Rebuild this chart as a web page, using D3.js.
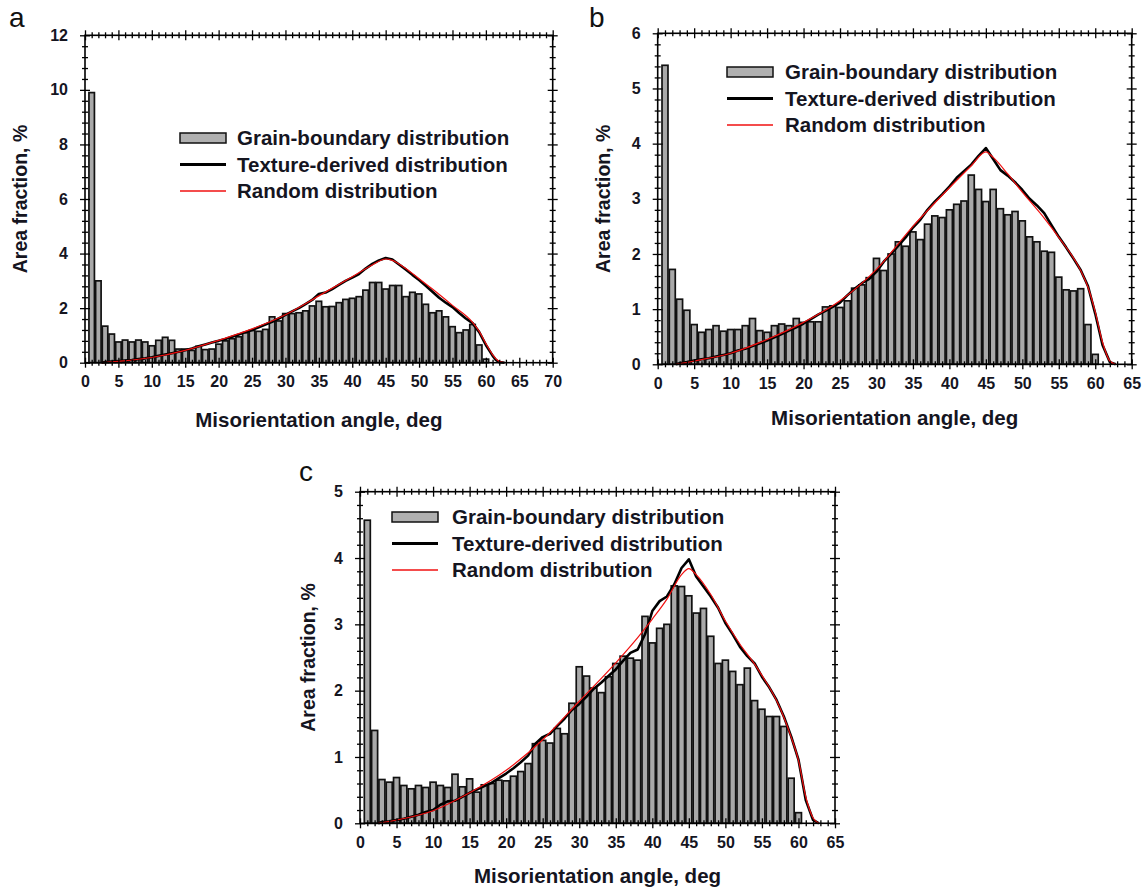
<!DOCTYPE html>
<html>
<head>
<meta charset="utf-8">
<script src="https://cdn.jsdelivr.net/npm/d3@7"></script>
<style>
body { margin: 0; background: white; }
text { font-family: "Liberation Sans", Arial, sans-serif; }
</style>
</head>
<body>
<svg id="plot"></svg>
<script>
// Histogram bin centres, deg
const binAngles = [1,2,3,4,5,6,7,8,9,10,11,12,13,14,15,16,17,18,19,20,
  21,22,23,24,25,26,27,28,29,30,31,32,33,34,35,36,37,38,39,40,
  41,42,43,44,45,46,47,48,49,50,51,52,53,54,55,56,57,58,59,60];

// Panel a
const barsA = [9.9,3.0,1.34,1.05,0.76,0.83,0.76,0.83,0.76,0.62,0.82,0.93,0.82,0.5,0.5,0.45,0.6,0.48,0.5,0.68,
  0.8,0.88,0.95,1.1,1.18,1.15,1.22,1.68,1.53,1.8,1.8,1.83,1.9,2.08,2.25,2.05,2.06,2.2,2.32,2.36,
  2.42,2.66,2.94,2.94,2.7,2.83,2.83,2.42,2.58,2.52,2.14,1.83,1.9,1.68,1.32,1.1,1.2,1.4,0.65,0.13];
const textureA = [[2.5,0],[3,0.02],[4,0.04],[5,0.06],[6,0.08],[7,0.1],[8,0.13],[9,0.16],[10,0.2],[11,0.25],
  [12,0.3],[13,0.35],[14,0.4],[15,0.46],[16,0.52],[17,0.6],[18,0.67],[19,0.74],[20,0.8],[21,0.87],
  [22,0.95],[23,1.03],[24,1.12],[25,1.2],[26,1.3],[27,1.4],[28,1.5],[29,1.62],[30,1.75],[31,1.88],
  [32,2.0],[33,2.15],[34,2.3],[35,2.52],[36,2.57],[37,2.7],[38,2.85],[39,3.0],[40,3.12],[41,3.25],
  [42,3.45],[43,3.62],[44,3.75],[45,3.84],[46,3.78],[47,3.6],[48,3.42],[49,3.22],[50,3.03],[51,2.82],
  [52,2.6],[53,2.38],[54,2.2],[55,2.04],[56,1.82],[57,1.62],[58,1.45],[59,1.12],[60,0.65],[61,0.26],
  [61.5,0.1],[62,0.02],[62.8,0]];
const randomA = [[2.5,0],[5,0.05],[10,0.19],[15,0.45],[20,0.82],[25,1.24],[30,1.76],[35,2.45],[40,3.15],
  [43,3.58],[45,3.8],[46,3.75],[48,3.45],[50,3.08],[52,2.7],[55,2.1],[58,1.48],[59,1.15],[60,0.7],
  [61,0.3],[62,0.05],[62.8,0]];

// Panel b
const barsB = [5.42,1.72,1.18,0.98,0.72,0.58,0.63,0.7,0.6,0.63,0.63,0.7,0.83,0.61,0.58,0.7,0.73,0.7,0.83,0.76,
  0.77,0.77,1.04,1.06,1.03,1.15,1.38,1.44,1.57,1.92,1.7,2.0,2.22,2.14,2.4,2.26,2.54,2.69,2.66,2.8,
  2.9,2.96,3.43,3.17,2.95,3.17,2.82,2.71,2.77,2.6,2.31,2.22,2.05,2.03,1.58,1.35,1.33,1.37,0.72,0.18];
const textureB = [[2.5,0],[3,0.02],[4,0.04],[5,0.07],[6,0.09],[7,0.11],[8,0.14],[9,0.17],[10,0.2],[11,0.25],
  [12,0.28],[13,0.33],[14,0.38],[15,0.43],[16,0.49],[17,0.55],[18,0.61],[19,0.67],[20,0.74],[21,0.82],
  [22,0.9],[23,0.97],[24,1.04],[25,1.12],[26,1.25],[27,1.37],[28,1.47],[29,1.55],[30,1.68],[31,1.86],
  [32,2.0],[33,2.15],[34,2.3],[35,2.48],[36,2.62],[37,2.8],[38,2.95],[39,3.08],[40,3.22],[41,3.38],
  [42,3.5],[43,3.62],[44,3.78],[45,3.92],[46,3.72],[47,3.52],[48,3.42],[49,3.3],[50,3.16],[51,3.0],
  [52,2.88],[53,2.74],[54,2.52],[55,2.31],[56,2.12],[57,1.92],[58,1.71],[59,1.42],[60,0.92],[61,0.35],
  [62,0.04],[62.8,0]];
const randomB = [[2.5,0],[5,0.06],[10,0.2],[15,0.45],[20,0.76],[25,1.15],[30,1.72],[35,2.5],[40,3.2],
  [43,3.6],[45,3.85],[46,3.75],[48,3.45],[50,3.12],[53,2.65],[55,2.3],[58,1.7],[59,1.4],[60,0.95],
  [61,0.4],[62,0.06],[62.8,0]];

// Panel c
const barsC = [4.57,1.4,0.66,0.62,0.69,0.57,0.52,0.57,0.54,0.62,0.57,0.54,0.74,0.55,0.67,0.47,0.58,0.6,0.65,0.64,
  0.71,0.78,0.9,1.2,1.25,1.21,1.43,1.35,1.81,2.36,2.22,2.04,1.97,2.21,2.41,2.52,2.49,2.46,3.12,2.72,
  2.94,3.0,3.58,3.57,3.43,3.17,3.24,2.82,2.41,2.46,2.29,2.09,2.34,1.85,1.72,1.61,1.61,1.46,0.68,0.16];
const textureC = [[2.5,0],[3,0.02],[4,0.03],[5,0.05],[6,0.07],[7,0.1],[8,0.13],[9,0.17],[10,0.2],[11,0.28],
  [12,0.33],[13,0.34],[14,0.4],[15,0.46],[16,0.51],[17,0.56],[18,0.61],[19,0.68],[20,0.75],[21,0.83],
  [22,0.92],[23,1.02],[24,1.2],[25,1.3],[26,1.35],[27,1.47],[28,1.58],[29,1.71],[30,1.8],[31,1.91],
  [32,2.03],[33,2.12],[34,2.22],[35,2.32],[36,2.45],[37,2.57],[38,2.62],[39,2.85],[40,3.2],[41,3.35],
  [42,3.42],[43,3.6],[44,3.85],[45,3.98],[46,3.72],[47,3.57],[48,3.42],[49,3.25],[50,3.02],[51,2.85],
  [52,2.66],[53,2.52],[54,2.41],[55,2.21],[56,2.05],[57,1.86],[58,1.61],[59,1.31],[60,0.96],[61,0.35],
  [62,0.05],[62.8,0]];
const randomC = [[2.5,0],[5,0.05],[10,0.19],[15,0.46],[20,0.8],[25,1.26],[30,1.84],[35,2.42],[38,2.8],
  [40,3.08],[42,3.38],[44,3.75],[45,3.84],[46,3.75],[48,3.45],[50,3.05],[52,2.7],[54,2.4],[55,2.23],
  [57,1.85],[58,1.6],[59,1.3],[60,0.95],[61,0.4],[62,0.08],[62.8,0]];

// Tick labels
const xTicksA = [0,5,10,15,20,25,30,35,40,45,50,55,60,65,70];
const xTicksBC = [0,5,10,15,20,25,30,35,40,45,50,55,60,65];
const yTicksA = [0,2,4,6,8,10,12];
const yTicksB = [0,1,2,3,4,5,6];
const yTicksC = [0,1,2,3,4,5];

const legendLabels = ['Grain-boundary distribution', 'Texture-derived distribution', 'Random distribution'];
const xTitle = 'Misorientation angle, deg';
const yTitle = 'Area fraction, %';

const width = 1144, height = 892;

let svg = d3.select('#plot')
  .attr('width', width)
  .attr('height', height)
  .style('background', 'white');

const panels = [
  { letter: 'a', letterX: 9, letterY: 27,
    left: 85, right: 552.7, top: 35.3, bottom: 362.7,
    xMax: 70, yMax: 12, xTicks: xTicksA, yTicks: yTicksA, yMinor: 0.4,
    bars: barsA, texture: textureA, random: randomA,
    xTitleY: 427, yTitleX: 20,
    legX: 180, legY: 138, legText: 237 },
  { letter: 'b', letterX: 589, letterY: 27,
    left: 657.7, right: 1131.7, top: 33.3, bottom: 364.3,
    xMax: 65, yMax: 6, xTicks: xTicksBC, yTicks: yTicksB, yMinor: 0.2,
    bars: barsB, texture: textureB, random: randomB,
    xTitleY: 425, yTitleX: 603,
    legX: 727, legY: 72, legText: 785 },
  { letter: 'c', letterX: 299, letterY: 481,
    left: 360, right: 835, top: 491.7, bottom: 823.3,
    xMax: 65, yMax: 5, xTicks: xTicksBC, yTicks: yTicksC, yMinor: 0.2,
    bars: barsC, texture: textureC, random: randomC,
    xTitleY: 883, yTitleX: 308,
    legX: 392, legY: 517, legText: 452 }
];

const textColor = '#15151f';

function crossTicks(g, horiz, major) {
  g.select('.domain').remove();
  g.selectAll('.tick line')
    .attr('stroke', '#000')
    .attr('stroke-width', 1.3);
  if (horiz) g.selectAll('.tick line').attr('y1', d => major.includes(d) ? -5 : -3).attr('y2', d => major.includes(d) ? 5 : 3);
  else g.selectAll('.tick line').attr('x1', d => major.includes(d) ? -5 : -3).attr('x2', d => major.includes(d) ? 5 : 3);
}

function drawPanel(p) {
  let x = d3.scaleLinear().domain([0, p.xMax]).range([p.left, p.right]);
  let y = d3.scaleLinear().domain([0, p.yMax]).range([p.bottom, p.top]);
  let g = svg.append('g');

  let xAll = d3.range(0, p.xMax + 0.5, 1);
  let yAll = d3.range(0, Math.round(p.yMax / p.yMinor) + 1).map(i => +(i * p.yMinor).toFixed(2));
  let yMajor = p.yTicks;

  // Bars
  g.selectAll('rect.bar')
    .data(p.bars)
    .enter()
    .append('rect')
    .attr('class', 'bar')
    .attr('x', (d, i) => x(binAngles[i] - 0.41))
    .attr('width', x(0.82) - x(0))
    .attr('y', d => y(d))
    .attr('height', d => y(0) - y(d))
    .attr('fill', '#a9a9a9')
    .attr('stroke', '#111')
    .attr('stroke-width', 1.7);

  // Lines
  let line = d3.line().x(d => x(d[0])).y(d => y(d[1]));
  g.append('path')
    .datum(p.texture)
    .attr('d', line)
    .attr('fill', 'none')
    .attr('stroke', '#000')
    .attr('stroke-width', 2.6)
    .attr('stroke-linejoin', 'round');
  g.append('path')
    .datum(p.random)
    .attr('d', line.curve(d3.curveMonotoneX))
    .attr('fill', 'none')
    .attr('stroke', '#f01010')
    .attr('stroke-width', 1.2);

  // Frame
  g.append('rect')
    .attr('x', p.left).attr('y', p.top)
    .attr('width', p.right - p.left).attr('height', p.bottom - p.top)
    .attr('fill', 'none').attr('stroke', '#000').attr('stroke-width', 1.6);

  // Axes: bottom/left with labels, top/right ticks only
  let bottom = g.append('g')
    .attr('transform', `translate(0, ${p.bottom})`)
    .call(d3.axisBottom(x).tickValues(xAll).tickSize(5).tickPadding(8)
      .tickFormat(d => p.xTicks.includes(d) ? d : ''));
  crossTicks(bottom, true, p.xTicks);
  g.append('g')
    .attr('transform', `translate(0, ${p.top})`)
    .call(d3.axisTop(x).tickValues(xAll).tickSize(5).tickFormat(''))
    .call(s => crossTicks(s, true, p.xTicks));

  let left = g.append('g')
    .attr('transform', `translate(${p.left}, 0)`)
    .call(d3.axisLeft(y).tickValues(yAll).tickSize(5).tickPadding(12)
      .tickFormat(d => yMajor.includes(d) ? d : ''));
  crossTicks(left, false, yMajor);
  g.append('g')
    .attr('transform', `translate(${p.right}, 0)`)
    .call(d3.axisRight(y).tickValues(yAll).tickSize(5).tickFormat(''))
    .call(s => crossTicks(s, false, yMajor));

  g.selectAll('.tick text')
    .style('font-family', '"Liberation Sans", Arial, sans-serif')
    .style('font-size', '16px')
    .style('font-weight', 'bold')
    .attr('fill', textColor);

  // Titles
  g.append('text')
    .attr('x', (p.left + p.right) / 2)
    .attr('y', p.xTitleY)
    .attr('text-anchor', 'middle')
    .style('font-size', '20.5px')
    .style('font-weight', 'bold')
    .attr('fill', textColor)
    .text(xTitle);
  g.append('text')
    .attr('transform', `translate(${p.yTitleX + 7}, ${(p.top + p.bottom) / 2}) rotate(-90)`)
    .attr('text-anchor', 'middle')
    .style('font-size', '19.5px')
    .style('font-weight', 'bold')
    .attr('fill', textColor)
    .text(yTitle);

  g.append('text')
    .attr('x', p.letterX)
    .attr('y', p.letterY)
    .style('font-size', '28px')
    .attr('fill', '#111')
    .text(p.letter);

  // Legend
  let leg = g.append('g');
  leg.append('rect')
    .attr('x', p.legX).attr('y', p.legY - 5)
    .attr('width', 46).attr('height', 10)
    .attr('fill', '#b0b0b0').attr('stroke', '#111').attr('stroke-width', 1.5);
  leg.append('line')
    .attr('x1', p.legX).attr('x2', p.legX + 46)
    .attr('y1', p.legY + 26.5).attr('y2', p.legY + 26.5)
    .attr('stroke', '#000').attr('stroke-width', 2.8);
  leg.append('line')
    .attr('x1', p.legX).attr('x2', p.legX + 46)
    .attr('y1', p.legY + 53).attr('y2', p.legY + 53)
    .attr('stroke', '#f01010').attr('stroke-width', 1.3);
  leg.selectAll('text.leg')
    .data(legendLabels)
    .enter()
    .append('text')
    .attr('class', 'leg')
    .attr('x', p.legText)
    .attr('y', (d, i) => p.legY + 7 + i * 26.5)
    .style('font-size', '20.5px')
    .style('font-weight', 'bold')
    .attr('fill', textColor)
    .text(d => d);
}

panels.forEach(drawPanel);
</script>
</body>
</html>
